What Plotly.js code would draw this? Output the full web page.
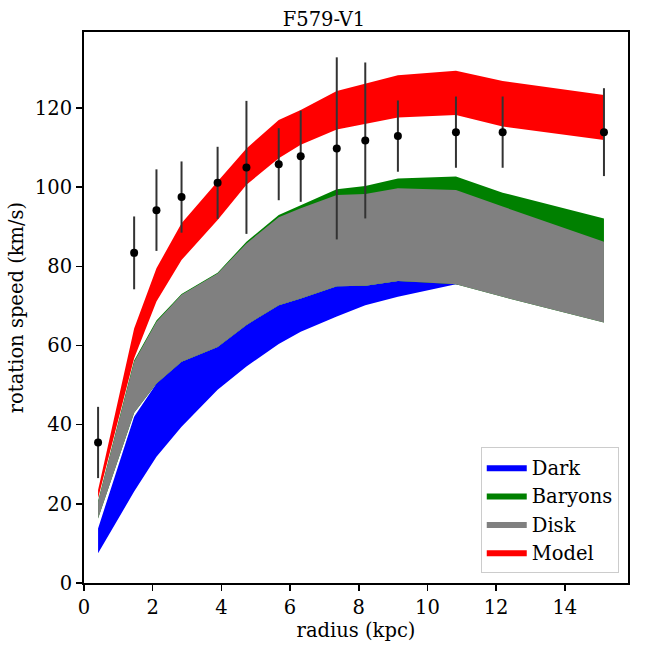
<!DOCTYPE html>
<html>
<head>
<meta charset="utf-8">
<script src="https://cdn.plot.ly/plotly-3.0.1.min.js"></script>
<style>html,body{margin:0;padding:0;background:#fff;} #chart{width:648px;height:648px;}</style>
</head>
<body>
<div id="chart"></div>
<script>
const radius = [0.41, 1.46, 2.11, 2.84, 3.89, 4.73, 5.67, 6.31, 7.36, 8.19, 9.14, 10.83, 12.19, 15.14];
const vObs   = [35.5, 83.4, 94.2, 97.5, 101.1, 105.0, 105.8, 107.8, 109.8, 111.8, 112.9, 113.9, 113.9, 113.9];
const vErr   = [9.0, 9.2, 10.3, 9.0, 9.1, 16.8, 9.1, 11.5, 23.0, 19.7, 9.0, 9.0, 9.0, 11.1];

const darkLo = [7.5, 23.1, 31.9, 39.5, 48.8, 54.7, 60.4, 63.5, 67.3, 70.2, 72.3, 75.5, 73.5, 67.0];
const darkHi = [13.8, 42.0, 50.4, 55.9, 59.6, 65.2, 70.2, 71.9, 75.0, 75.1, 76.3, 75.9, 76.5, 73.6];

const baryLo = [16.3, 43.0, 50.4, 55.9, 59.6, 65.2, 70.2, 71.9, 75.0, 75.1, 76.3, 75.5, 72.3, 65.8];
const baryHi = [20.7, 56.2, 66.3, 73.0, 78.4, 86.2, 93.0, 95.5, 99.5, 100.3, 102.2, 102.7, 98.6, 92.1];

const diskLo = [16.3, 43.0, 50.4, 55.9, 59.6, 65.2, 70.2, 71.9, 75.0, 75.1, 76.3, 75.5, 72.3, 65.8];
const diskHi = [20.5, 55.9, 66.0, 72.8, 78.2, 85.8, 92.4, 94.7, 98.0, 98.3, 99.7, 99.3, 95.1, 86.2];

const modelLo = [21.4, 56.8, 71.1, 81.6, 91.7, 100.6, 107.3, 110.7, 114.6, 116.0, 117.6, 118.2, 115.3, 111.9];
const modelHi = [23.5, 64.3, 79.5, 90.9, 101.4, 109.8, 117.0, 119.5, 124.3, 126.2, 128.3, 129.4, 126.8, 123.3];

const xTicks = [0, 2, 4, 6, 8, 10, 12, 14];
const yTicks = [0, 20, 40, 60, 80, 100, 120];

function band(lo, hi, name, color) {
  return [
    {x: radius, y: lo, type: 'scatter', mode: 'lines', line: {width: 0, color: color},
     showlegend: false, hoverinfo: 'skip', legendgroup: name},
    {x: radius, y: hi, type: 'scatter', mode: 'lines', line: {width: 0, color: color},
     fill: 'tonexty', fillcolor: color, name: name, legendgroup: name}
  ];
}

const traces = [].concat(
  band(darkLo, darkHi, 'Dark', '#0000ff'),
  band(baryLo, baryHi, 'Baryons', '#008000'),
  band(diskLo, diskHi, 'Disk', '#808080'),
  band(modelLo, modelHi, 'Model', '#ff0000'),
  [{
    x: radius, y: vObs, type: 'scatter', mode: 'markers', showlegend: false,
    marker: {color: '#000', size: 8},
    error_y: {type: 'data', array: vErr, visible: true, color: '#333333', thickness: 2, width: 0}
  }]
);

const FS = 19.5;
const layout = {
  width: 648, height: 648,
  margin: {l: 84, r: 20, t: 32, b: 65},
  paper_bgcolor: '#fff', plot_bgcolor: '#fff',
  font: {family: 'DejaVu Serif', size: FS, color: '#000'},
  title: {text: 'F579-V1', font: {family: 'DejaVu Serif', size: FS, color: '#000'},
          x: 0.5, xanchor: 'center', y: 1, yanchor: 'top', yref: 'container', pad: {t: 12}},
  xaxis: {
    range: [0, 15.84], tickvals: xTicks, ticktext: xTicks.map(String),
    ticks: 'outside', ticklen: 6, tickwidth: 1.5, tickcolor: '#000',
    showline: true, linecolor: '#000', linewidth: 2, mirror: true,
    showgrid: false, zeroline: false,
    tickfont: {family: 'DejaVu Serif', size: FS, color: '#000'},
    title: {text: 'radius (kpc)', font: {family: 'DejaVu Serif', size: FS, color: '#000'}, standoff: 2}
  },
  yaxis: {
    range: [0, 139.2], tickvals: yTicks, ticktext: yTicks.map(String),
    ticks: 'outside', ticklen: 6, tickwidth: 1.5, tickcolor: '#000',
    showline: true, linecolor: '#000', linewidth: 2, mirror: true,
    showgrid: false, zeroline: false,
    tickfont: {family: 'DejaVu Serif', size: FS, color: '#000'},
    title: {text: 'rotation speed (km/s)', font: {family: 'DejaVu Serif', size: FS, color: '#000'}, standoff: 6}
  },
  legend: {
    x: 0.983, y: 0.018, xanchor: 'right', yanchor: 'bottom',
    bgcolor: 'rgba(255,255,255,0.8)', bordercolor: '#cccccc', borderwidth: 1,
    font: {family: 'DejaVu Serif', size: FS, color: '#000'},
    itemwidth: 40, tracegroupgap: 0
  },
  showlegend: true
};

Plotly.newPlot('chart', traces, layout, {displayModeBar: false, staticPlot: true});
</script>
</body>
</html>
